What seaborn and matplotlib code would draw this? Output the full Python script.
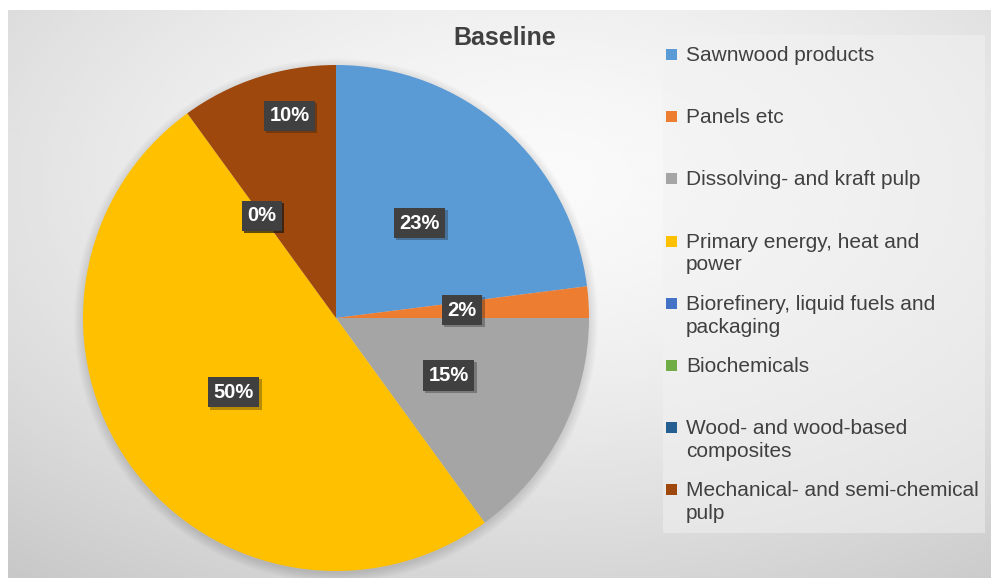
import numpy as np
import matplotlib
matplotlib.use("Agg")
import matplotlib.pyplot as plt
import matplotlib.patheffects as pe
import seaborn as sns
from matplotlib.patches import Rectangle, Circle

sns.set_theme(style="white")
plt.rcParams["font.family"] = ["Liberation Sans", "DejaVu Sans"]

# Shares of the baseline wood use (percent)
categories = [
    "Sawnwood products",
    "Panels etc",
    "Dissolving- and kraft pulp",
    "Primary energy, heat and\npower",
    "Biorefinery, liquid fuels and\npackaging",
    "Biochemicals",
    "Wood- and wood-based\ncomposites",
    "Mechanical- and semi-chemical\npulp",
]
shares = [23, 2, 15, 50, 0, 0, 0, 10]
colors = ["#5B9BD5", "#ED7D31", "#A5A5A5", "#FFC000",
          "#4472C4", "#70AD47", "#255E91", "#9E480E"]

W, H = 991, 578
fig = plt.figure(figsize=(W / 100, H / 100), dpi=100)
fig.patch.set_facecolor("white")

# Background panel with a soft radial gradient
bg = fig.add_axes([8 / W, 0, (W - 8) / W, (H - 10) / H])
bg.set_axis_off()
yy, xx = np.mgrid[0:300, 0:500]
cx, cy = 270, 90
d = np.sqrt(((xx - cx) / 500) ** 2 + ((yy - cy) / 300) ** 2)
val = np.clip(0.98 - 0.24 * d ** 1.5, 0.75, 1.0)
bg.imshow(val, cmap="gray", vmin=0, vmax=1, aspect="auto",
          extent=[0, 1, 0, 1], origin="upper", interpolation="bicubic")
bg.set_xlim(0, 1)
bg.set_ylim(0, 1)

# Pie axes
cxp, cyp, r = 336, 318, 253
half = 262
ax = fig.add_axes([(cxp - half) / W, (H - cyp - half) / H, 2 * half / W, 2 * half / H])
ax.set_axis_off()

# soft drop shadow under the pie
for k in range(10):
    ax.add_patch(Circle((0.0, -0.01), 1.0 + 0.004 * k, color="black",
                        alpha=0.012, lw=0, zorder=0))

wedges, _ = ax.pie(shares, colors=colors, startangle=90, counterclock=False,
                   radius=1.0, wedgeprops=dict(linewidth=0), normalize=True)
for w in wedges:
    w.set_zorder(2)
lim = half / r
ax.set_xlim(-lim, lim)
ax.set_ylim(-lim, lim)
ax.set_aspect("equal")

# Data labels
label_radius = [0.5, 0.5, 0.5, 0.5, 0.5, 0.5, 0.5, 0.82]
label_turn = [0, 0, 0, 0, 0, 0, 0, 5]
total = sum(shares)
cum = 0
for i, v in enumerate(shares):
    mid = (cum + v / 2) / total * 360 + label_turn[i]
    cum += v
    a = np.deg2rad(90 - mid)
    x, y = label_radius[i] * np.cos(a), label_radius[i] * np.sin(a)
    t = ax.text(x, y, f"{v:.0f}%", ha="center", va="center", fontsize=14.5,
                fontweight="bold", color="white", zorder=5,
                bbox=dict(boxstyle="square,pad=0.28", fc="#404040", ec="none"))
    t.get_bbox_patch().set_path_effects(
        [pe.SimplePatchShadow(offset=(1.5, -1.5), alpha=0.3), pe.Normal()])

# Title
fig.text(505 / W, 1 - 38 / H, "Baseline", ha="center", va="center",
         fontsize=18, fontweight="bold", color="#404040")

# Legend panel
fig.patches.append(Rectangle((663 / W, 1 - 533 / H), (985 - 663) / W, (533 - 35) / H,
                             transform=fig.transFigure, fc="#f2f2f2", ec="none",
                             alpha=0.5, zorder=1))
y0, step = 55, 62.2
for i, (lab, c) in enumerate(zip(categories, colors)):
    ytop = y0 + i * step
    fig.patches.append(Rectangle((666 / W, 1 - (ytop + 5) / H), 11 / W, 11 / H,
                                 transform=fig.transFigure, fc=c, ec="none", zorder=3))
    fig.text(686 / W, 1 - (ytop - 9) / H, lab, ha="left", va="top",
             fontsize=15, color="#404040", linespacing=1.25, zorder=3)

fig.savefig("out.png", dpi=100)
